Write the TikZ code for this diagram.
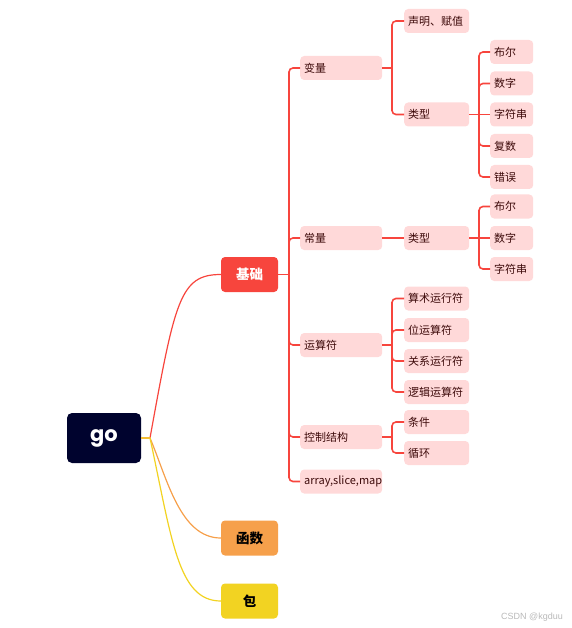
\documentclass[tikz,border=0pt]{standalone}
\usepackage{fontspec}
\setmainfont{Noto Sans CJK SC}
\newfontfamily\gofont{Poppins}
\newfontfamily\markfont{Liberation Sans}
\usepackage{tikz}
\usetikzlibrary{positioning}

\definecolor{rootfill}{HTML}{00032E}
\definecolor{basered}{HTML}{F7453D}
\definecolor{funcorange}{HTML}{F6A04B}
\definecolor{pkgyellow}{HTML}{F2D322}
\definecolor{leaf}{HTML}{FFD9D9}
\definecolor{leaftext}{HTML}{3D0A0A}

\begin{document}
\begin{tikzpicture}[
  x=1pt, y=-1pt,
  rootbox/.style={rounded corners=5pt, fill=rootfill, text=white, minimum width=74pt,
                  minimum height=50pt, inner sep=0pt, font=\gofont\bfseries\fontsize{21}{24}\selectfont},
  topbox/.style={rounded corners=4pt, minimum width=57pt, minimum height=35pt, inner sep=0pt,
                 font=\fontsize{13.5}{15}\selectfont\bfseries},
  subbox/.style={rounded corners=4pt, fill=leaf, text=leaftext, anchor=west, align=left,
                 minimum height=24pt, inner xsep=4pt, inner ysep=0pt, font=\fontsize{11}{13}\selectfont},
  lvtwo/.style={subbox, text width=74pt},
  lvthree/.style={subbox, text width=57pt},
  lvfour/.style={subbox, text width=35pt},
  stem/.style={line width=1.2pt},
  bus/.style={basered, line width=1.6pt, rounded corners=4pt},
]
  \useasboundingbox (0,0) rectangle (571,628);

  \node[rootbox] (go) at (104,438) {\raisebox{-1.5pt}{go}};
  \node[topbox, fill=basered, text=white] (base) at (249.5,274.5) {基础};
  \node[topbox, fill=funcorange] (func) at (249.5,538) {函数};
  \node[topbox, fill=pkgyellow] (pkg) at (249.5,601) {包};

  % go -> first level
  \coordinate (gj) at (150,438);
  \draw[stem, basered] (go.east) -- (gj) .. controls (175,300) and (180,274.5) .. (base.west);
  \draw[stem, funcorange] (go.east) -- (gj) .. controls (167,478) and (180,538) .. (func.west);
  \draw[stem, pkgyellow] (go.east) -- (gj) .. controls (172,540) and (178,601) .. (pkg.west);

  % second level
  \node[lvtwo] (var) at (300,68) {变量};
  \node[lvtwo] (const) at (300,238) {常量};
  \node[lvtwo] (oper) at (300,345) {运算符};
  \node[lvtwo] (ctrl) at (300,437) {控制结构};
  \node[lvtwo] (coll) at (300,481.5) {array,slice,map};

  % third level
  \node[lvthree] (vdecl) at (404,21) {声明、赋值};
  \node[lvthree] (vtype) at (404,114.5) {类型};
  \node[lvthree] (ctype) at (404,238) {类型};
  \node[lvthree] (arith) at (404,298.5) {算术运行符};
  \node[lvthree] (bitop) at (404,330) {位运算符};
  \node[lvthree] (relop) at (404,361) {关系运行符};
  \node[lvthree] (logic) at (404,392) {逻辑运算符};
  \node[lvthree] (cond) at (404,422) {条件};
  \node[lvthree] (loop) at (404,453) {循环};

  % fourth level
  \node[lvfour] (vb1) at (490,52) {布尔};
  \node[lvfour] (vb2) at (490,83.5) {数字};
  \node[lvfour] (vb3) at (490,114.5) {字符串};
  \node[lvfour] (vb4) at (490,146) {复数};
  \node[lvfour] (vb5) at (490,177) {错误};
  \node[lvfour] (cb1) at (490,206.5) {布尔};
  \node[lvfour] (cb2) at (490,238) {数字};
  \node[lvfour] (cb3) at (490,269) {字符串};

  % junctions
  \coordinate (jbase) at (289,274.5);
  \coordinate (jvar) at (392,68);
  \coordinate (joper) at (392,345);
  \coordinate (jctrl) at (392,437);
  \coordinate (jvtype) at (479,114.5);
  \coordinate (jctype) at (479,238);

  \draw[bus] (base.east) -- (jbase);
  \foreach \s in {var,const,oper,ctrl,coll} { \draw[bus] (jbase) |- (\s.west); }
  \draw[bus] (var.east) -- (jvar);
  \foreach \s in {vdecl,vtype} { \draw[bus] (jvar) |- (\s.west); }
  \draw[bus] (const.east) -- (ctype.west);
  \draw[bus] (oper.east) -- (joper);
  \foreach \s in {arith,bitop,relop,logic} { \draw[bus] (joper) |- (\s.west); }
  \draw[bus] (ctrl.east) -- (jctrl);
  \foreach \s in {cond,loop} { \draw[bus] (jctrl) |- (\s.west); }
  \draw[bus] (vtype.east) -- (jvtype);
  \foreach \s in {vb1,vb2,vb4,vb5} { \draw[bus] (jvtype) |- (\s.west); }
  \draw[bus] (jvtype) -- (vb3.west);
  \draw[bus] (ctype.east) -- (jctype);
  \foreach \s in {cb1,cb3} { \draw[bus] (jctype) |- (\s.west); }
  \draw[bus] (jctype) -- (cb2.west);

  \node[anchor=east, text=gray!55, font=\markfont\fontsize{9}{10}\selectfont, inner sep=0pt] (mark) at (563,617) {CSDN @kgduu};
\end{tikzpicture}
\end{document}
